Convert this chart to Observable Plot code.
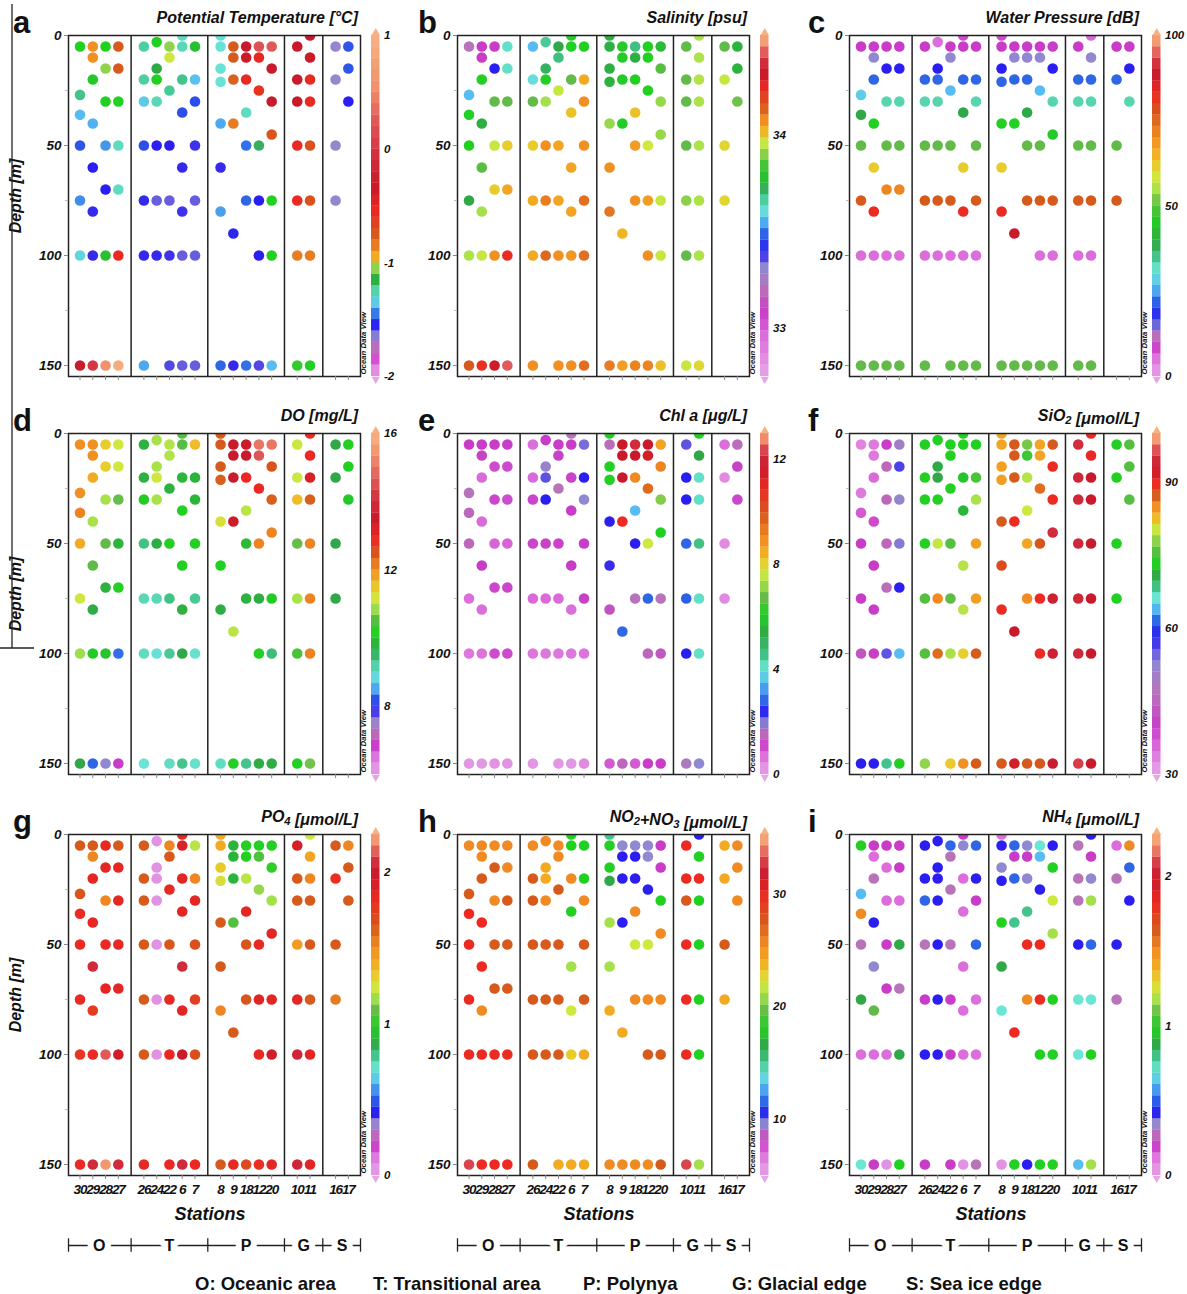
<!DOCTYPE html>
<html><head><meta charset="utf-8">
<script src="https://cdn.jsdelivr.net/npm/d3@7"></script>
<script src="https://cdn.jsdelivr.net/npm/@observablehq/plot@0.6"></script>
<style>
body{margin:0;background:#fff;}
#chart{position:relative;width:1187px;height:1294px;overflow:hidden;background:#fff;}
#chart svg{position:absolute;overflow:visible;}
</style></head><body><div id="chart"></div>
<script>
const FONT = '"Liberation Sans", Arial, Helvetica, sans-serif';

// ---------- categories ----------
const stations = ["30","29","28","27","26","24","22","6","7","8","9","18","12","20","10","11","16","17"];
const stationGroup = ["O","O","O","O","T","T","T","T","T","P","P","P","P","P","G","G","S","S"];
const groups = ["O","T","P","G","S"];
const groupNames = ["Oceanic area","Transitional area","Polynya","Glacial edge","Sea ice edge"];

// sampling depths (m) per station, same order as stations
const depths = [
 [5,27,36,50,75,100,150],
 [5,10,20,40,60,80,100,150],
 [5,15,30,50,70,100,150],
 [5,15,30,50,70,100,150],
 [5,20,30,50,75,100,150],
 [3,15,20,30,50,75,100],
 [5,10,25,50,75,100,150],
 [0,5,20,35,60,80,100,150],
 [5,20,30,50,75,100,150],
 [0,5,15,21,40,60,80,150],
 [5,10,20,40,90,150],
 [5,10,20,35,50,75,150],
 [5,10,25,50,75,100,150],
 [5,15,30,45,75,100,150],
 [5,20,30,50,75,100,150],
 [0,10,20,30,50,75,100,150],
 [5,20,50,75],
 [5,15,30]
];

// ---------- series values (per station, per depth) ----------
const temperature = [
 [-1.11,-1.22,-1.38,-1.49,-1.43,-1.33,-0.30],
 [-0.90,-0.90,-1.12,-1.39,-1.56,-1.57,-1.57,0.00],
 [-1.11,-1.05,-1.11,-1.42,-1.56,-1.13,0.55],
 [-0.75,-0.75,-1.11,-1.27,-1.27,-0.56,0.90],
 [-1.24,-1.24,-1.35,-1.50,-1.57,-1.57,-1.40],
 [-1.11,-1.16,-1.11,-1.26,-1.56,-1.62,-1.57],
 [-1.05,-1.01,-1.23,-1.56,-1.62,-1.58,-1.60],
 [-1.27,-1.26,-1.22,-1.50,-1.57,-1.58,-1.62,-1.62],
 [-1.13,-1.37,-1.50,-1.58,-1.62,-1.62,-1.62],
 [-1.30,-1.30,-1.30,-1.30,-1.40,-1.57,-1.41,-1.47],
 [-0.75,-0.75,-0.77,-0.85,-1.55,-1.57],
 [-0.33,-0.35,-0.55,-1.27,-1.46,-1.47,-1.46],
 [0.20,-0.53,-0.60,-1.18,-1.56,-1.56,-1.60],
 [0.25,-0.33,-0.33,-0.73,-1.11,-1.11,-1.38],
 [-0.33,-0.33,-0.33,-0.55,-0.55,-0.85,-1.10],
 [-0.33,-0.35,-0.55,-0.55,-0.72,-0.72,-0.85,-1.11],
 [-1.67,-1.67,-1.67,-1.67],
 [-1.49,-1.49,-1.56]
];
const salinity = [
 [33.21,33.56,33.81,33.81,33.74,33.93,34.15],
 [33.09,33.09,33.81,33.75,33.86,33.92,33.96,34.23],
 [33.09,33.40,33.87,33.96,34.00,34.07,34.31],
 [33.63,33.63,33.87,34.00,34.04,34.24,34.43],
 [33.56,33.61,33.87,34.00,34.03,34.03,34.07],
 [33.67,33.72,33.81,33.92,34.07,34.10,34.13],
 [33.74,33.69,33.96,34.04,34.04,34.07,34.07],
 [33.81,33.81,33.87,34.01,34.04,34.04,34.06,34.07],
 [33.81,34.03,34.07,34.07,34.12,34.12,34.12],
 [33.75,33.75,33.75,33.76,33.91,34.07,34.11,34.10],
 [33.80,33.80,33.80,33.80,34.02,34.05],
 [33.69,33.75,33.81,34.01,34.05,34.07,34.09],
 [33.81,33.81,33.81,33.97,34.05,34.07,34.09],
 [33.77,33.86,33.91,33.91,33.96,33.96,34.01],
 [33.87,33.87,33.87,33.87,33.90,33.87,33.96],
 [33.93,33.93,33.94,33.93,33.93,33.93,33.93,33.99],
 [33.87,33.96,33.99,33.99],
 [33.76,33.76,33.88]
];
const pressure = [
 [9,28,39,50.5,77,5.6,50.5],
 [9,14,22,46,62,83,5.6,50.5],
 [9,17,33,50.5,71,5.6,50.5],
 [9,17,33,50.5,71,5.6,50.5],
 [9,22,33,50.5,77,5.6,50.5],
 [5.6,17,22,33,50.5,77,5.6],
 [9,14,26,50.5,77,5.6,50.5],
 [8,9,22,39,62,83,5.6,50.5],
 [9,22,33,50.5,77,5.6,50.5],
 [8,9,17,22,46,62,83,50.5],
 [9,14,22,46,88,50.5],
 [9,14,22,39,50.5,77,50.5],
 [9,14,26,50.5,77,5.6,50.5],
 [9,17,33,45,77,5.6,50.5],
 [9,22,33,50.5,77,5.6,50.5],
 [6,14,22,33,50.5,77,5.6,50.5],
 [9,22,50.5,77],
 [9,17,33]
];
const oxygen = [
 [12.0,12.0,12.1,11.75,11.15,10.85,9.7],
 [12.0,12.0,11.75,10.9,10.55,9.75,10.1,8.27],
 [11.45,11.45,10.9,10.58,9.8,10.0,7.6],
 [11.15,11.15,10.6,9.85,10.14,8.3,6.85],
 [9.8,9.8,10.1,9.35,9.1,9.05,8.95],
 [10.9,10.9,11.15,10.9,9.75,9.1,8.9],
 [10.95,10.95,9.8,10.14,9.35,9.25,9.05],
 [10.5,10.5,9.85,10.14,10.14,9.8,9.7,9.3],
 [11.6,9.85,9.85,10.14,9.25,9.0,9.0],
 [12.44,12.44,12.44,12.4,11.2,10.14,9.75,9.05],
 [13.5,13.5,13.5,13.4,11.0,10.14],
 [13.5,13.5,12.9,11.0,9.9,9.8,9.3],
 [15.0,14.6,12.9,12.1,9.75,10.14,9.75],
 [15.0,12.5,12.4,12.1,10.1,9.4,9.75],
 [11.1,11.1,11.6,10.6,10.9,10.4,10.14],
 [12.9,12.9,13.2,12.4,12.1,12.1,12.1,10.65],
 [9.7,9.7,9.7,9.7],
 [10.14,10.14,10.05]
];
const chla = [
 [1.2,1.6,1.5,1.5,0.7,0.6,0.2],
 [1.2,1.25,0.75,0.75,1.2,0.7,0.65,0.2],
 [1.2,1.05,1.1,0.8,1.1,1.05,0.25],
 [1.2,1.05,1.05,0.8,1.1,1.05,0.25],
 [0.7,0.75,1.1,1.1,0.75,0.6,0.2],
 [1.2,1.85,2.1,2.3,1.15,0.75,0.6],
 [1.2,1.25,1.6,1.15,0.75,0.6,0.2],
 [1.6,1.2,1.15,1.2,1.2,0.7,0.6,0.2],
 [2.0,2.3,1.9,1.2,1.25,0.65,0.35],
 [6.1,1.55,6.1,6.1,2.3,2.25,1.35,0.9],
 [11.7,11.7,11.7,10.9,2.8,1.5],
 [12.1,11.7,9.0,3.5,2.3,1.6,0.9],
 [11.7,11.5,9.6,7.7,2.8,1.5,1.2],
 [8.6,9.1,7.0,6.1,1.6,1.4,1.2],
 [2.1,2.3,2.3,2.8,2.75,2.3,1.7],
 [6.1,5.3,4.1,4.1,4.6,4.1,4.1,1.9],
 [0.7,0.35,0.35,0.35],
 [1.55,1.25,1.1]
];
const silicate = [
 [33,34,37,39.8,39.8,43,58.3],
 [34,34,35.5,38.5,39.8,39.8,40,58.3],
 [40,45,45,45,46,55.5,68.2],
 [50,56.5,52,53.5,58.3,64.1,73.3],
 [73.3,73.3,73.3,73.3,75.5,75.5,78],
 [73.3,70.8,70.5,73.3,80,85.3,86.5],
 [73.3,73.3,73.3,75.5,76,79,82],
 [73.3,73.3,72.5,71.5,79.5,79.5,81.8,84.8],
 [73.3,75,79,83.8,84,87.3,87.3],
 [83.5,83.5,83.8,84,87.3,88,89.7,87.3],
 [87.3,87.3,87.3,89.7,92.8,92],
 [77,74.5,79.5,80.5,83.5,85.3,87.3],
 [83.5,83.5,86.5,87.5,89.7,89.7,87.5],
 [87.3,89.7,89.7,94.5,93.5,93.5,93],
 [94.5,94,94,94,94,94,95.5],
 [89.9,90,92.8,92.8,92.8,92.8,92.8,92.8],
 [73.3,73.3,73.3,73.3],
 [75.5,75.5,75.5]
];
const phosphate = [
 [1.64,1.66,1.82,1.82,1.83,1.78,1.83],
 [1.64,1.52,1.85,1.85,2.05,1.76,1.82,2.05],
 [1.84,1.85,1.52,1.84,1.86,2.13,2.21],
 [1.64,1.85,1.85,1.84,1.86,1.95,2.05],
 [1.64,1.64,1.64,1.64,1.64,1.64,1.84],
 [0.05,0.05,0.05,0.05,0.05,0.05,0.05],
 [1.52,1.65,1.84,1.65,1.84,1.84,1.84],
 [1.85,1.90,1.86,1.86,2.05,1.86,1.98,2.05],
 [1.20,1.52,1.85,1.68,1.74,1.68,1.83],
 [1.40,1.40,1.32,1.26,1.64,1.64,1.52,1.64],
 [0.90,0.90,0.90,1.06,1.64,1.84],
 [0.98,0.98,1.20,1.85,1.66,1.66,1.70],
 [0.98,1.05,1.15,1.84,1.86,1.84,1.80],
 [0.98,1.00,1.17,1.86,1.86,1.95,1.86],
 [1.92,1.64,1.64,1.45,1.86,2.03,2.03],
 [1.23,1.42,1.52,1.64,1.64,1.64,1.86,1.86],
 [1.64,1.80,1.64,1.55],
 [1.52,1.64,1.64]
];
const nitrate = [
 [25.5,27.5,30,30,30,30,33],
 [25.5,25.5,27.5,30,30,25.5,30,30],
 [25.5,27.5,25.5,27.5,27.5,30,30],
 [25.5,25.5,27.5,27.5,27.5,30,30],
 [25.5,27.5,27.5,27.5,27.5,27.5,27.5],
 [25.5,24,24,25.5,27.5,27.5,27.5],
 [25.5,25.5,27.5,27.5,27.5,27.5,24],
 [18,18,25.5,18,21,22,23,24],
 [18,18,25.5,27.5,27.5,24,24],
 [15,18,18,16.5,21,21,24,25.5],
 [9.5,10.3,10.3,10.3,24,25.5],
 [9.5,10.3,10.3,25.5,22,25.5,25.5],
 [9.5,9.5,10.3,22,25.5,27.5,25.5],
 [8,8,18,25.5,25.5,27.5,27.5],
 [30,30,27.5,30,30,30,33],
 [10.3,18,30,18,18,18,18,21],
 [24,24,27.5,24],
 [25.5,25.5,25.5]
];
const ammonium = [
 [0.98,0.61,1.51,0.28,0.87,0.14,0.70],
 [0.20,0.14,0.28,0.41,0.35,1.08,0.14,0.20],
 [0.20,0.14,0.14,0.20,0.20,0.14,0.05],
 [0.20,0.20,0.14,0.87,0.28,0.87,0.98],
 [0.41,0.41,0.51,0.28,0.20,0.41,0.20],
 [0.41,0.41,0.41,0.41,0.41,0.41,0.41],
 [0.51,0.28,0.28,0.28,0.20,0.20,0.20],
 [0.20,0.35,0.14,0.14,0.14,0.14,0.14,0.05],
 [0.51,0.41,0.20,0.51,0.14,0.14,0.28],
 [0.14,0.41,0.35,0.41,0.98,0.87,0.70,0.05],
 [0.51,0.20,0.51,0.79,1.82,0.98],
 [0.35,0.20,0.35,0.79,1.82,1.51,0.41],
 [0.70,0.61,0.41,1.82,1.82,0.98,0.98],
 [0.41,0.98,1.23,1.17,0.98,0.98,0.98],
 [0.28,0.28,0.28,0.41,0.70,0.70,0.61],
 [0.41,0.20,0.35,1.17,0.51,0.70,0.98,1.17],
 [0.14,0.28,0.41,0.28],
 [1.51,0.51,0.41]
];

// ---------- Ocean Data View palette and per-variable colour stops ----------
const palette = ["#e6a6e6","#dc6edc","#c83cc8","#b874b8","#9088d0","#2a1ef0","#2e66e6","#56bcf2","#6ae6d4","#44c48c","#30a848","#22d022","#62ba48","#a4e04c","#cfe840","#e8cc2c","#f2aa22","#f08a22","#d65a1c","#ec2a22","#c81a2a","#d23040","#e05a5a","#f0906c","#f8b282"];
const tempStops = [-2,-1.89,-1.82,-1.74,-1.66,-1.56,-1.47,-1.38,-1.29,-1.22,-1.16,-1.11,-1.07,-1.04,-1.01,-0.98,-0.95,-0.89,-0.75,-0.56,-0.33,-0.05,0.26,0.52,1];
const salStops = [32.75,32.95,33.09,33.21,33.31,33.40,33.49,33.56,33.62,33.68,33.74,33.81,33.87,33.92,33.97,34.0,34.03,34.08,34.15,34.24,34.32,34.38,34.43,34.47,34.52];
const presStops = [0,5.6,9,12,14,17,22,26,31,35,39,46,50.5,54,58,62,66,70.5,77,83,88,91.5,94.4,97.4,100];
const doStops = [6,6.56,6.85,7.25,7.6,7.93,8.27,8.57,8.96,9.3,9.7,10.14,10.58,10.87,11.12,11.46,11.75,12.05,12.44,12.88,13.47,14.06,14.65,15.33,16];
const chlStops = [0,0.7,1.2,1.6,1.9,2.3,2.8,3.5,4.0,4.5,5.3,6.1,6.7,7.3,7.7,8.1,8.5,9.0,9.9,10.9,11.7,12.2,12.5,12.8,13];
const sioStops = [30,35,39.8,46.7,52.8,58.3,61.4,64.1,66.2,68.2,70.6,73.3,76.1,78.8,80.5,81.9,83.2,85.3,87.3,89.7,92.8,94.9,96.9,98.3,100];
const po4Stops = [0,0.14,0.2,0.28,0.35,0.41,0.51,0.61,0.7,0.79,0.87,0.98,1.08,1.17,1.23,1.31,1.4,1.51,1.64,1.82,1.98,2.07,2.13,2.2,2.25];
const no3Stops = [5,7,8,9,9.5,10.3,11.5,13,14,15,16.5,18,19.5,21,22,23,24,25.5,27.5,30,31.5,32.5,33.5,34.3,35.3];
const nh4Stops = [0,0.14,0.2,0.28,0.35,0.41,0.51,0.61,0.7,0.79,0.87,0.98,1.08,1.17,1.23,1.31,1.4,1.51,1.64,1.82,1.98,2.07,2.13,2.2,2.28];

const panels = [
 {letter:"a", title:"Potential Temperature [°C]", values:temperature, stops:tempStops, ticks:[-2,-1,0,1]},
 {letter:"b", title:"Salinity [psu]", values:salinity, stops:salStops, ticks:[33,34]},
 {letter:"c", title:"Water Pressure [dB]", values:pressure, stops:presStops, ticks:[0,50,100]},
 {letter:"d", title:"DO [mg/L]", values:oxygen, stops:doStops, ticks:[8,12,16]},
 {letter:"e", title:"Chl a [μg/L]", values:chla, stops:chlStops, ticks:[0,4,8,12]},
 {letter:"f", title:"SiO_2 [μmol/L]", values:silicate, stops:sioStops, ticks:[30,60,90]},
 {letter:"g", title:"PO_4 [μmol/L]", values:phosphate, stops:po4Stops, ticks:[0,1,2]},
 {letter:"h", title:"NO_2+NO_3 [μmol/L]", values:nitrate, stops:no3Stops, ticks:[10,20,30]},
 {letter:"i", title:"NH_4 [μmol/L]", values:ammonium, stops:nh4Stops, ticks:[0,1,2]}
];

// ---------- layout ----------
const colLeft = [68, 457, 849];
const FW = 292, FH = 341;
const rowTop = [35, 433, 834];
const xDomain = [-0.9, 21.95];
const stationPos = stations.map((s, i) => i + groups.indexOf(stationGroup[i]));
const posLabel = new Map(stationPos.map((p, i) => [p, stations[i]]));
const separators = groups.slice(0, -1).map(g => d3.max(stationPos.filter((p, i) => stationGroup[i] === g)) + 1);
const groupCenters = groups.map(g => d3.mean(stationPos.filter((p, i) => stationGroup[i] === g)));

const chart = document.getElementById("chart");
function place(el, left, top) { el.style.left = left + "px"; el.style.top = top + "px"; chart.appendChild(el); }

panels.forEach((p, k) => {
  const col = k % 3, row = Math.floor(k / 3);
  const FL = colLeft[col], FT = rowTop[row], FR = FL + FW;
  const bottom = row === 2;
  const ML = 60, MT = 30, MR = 10, MB = bottom ? 40 : 20;
  const data = [];
  stations.forEach((s, i) => depths[i].forEach((d, j) => {
    const v = p.values[i][j];
    if (v != null) data.push({pos: stationPos[i], depth: d, value: v});
  }));
  const colorOpts = {type: "linear", domain: p.stops, range: palette, clamp: true};
  const svg = Plot.plot({
    width: ML + FW + MR, height: MT + FH + MB,
    marginLeft: ML, marginTop: MT, marginRight: MR, marginBottom: MB,
    style: {fontFamily: FONT, fontSize: "13.5px", fontWeight: "bold", fontStyle: "italic", color: "#111", background: "transparent"},
    x: {domain: xDomain},
    y: {domain: [0, 155], reverse: true},
    color: colorOpts,
    marks: [
      Plot.dot(data, {x: "pos", y: "depth", fill: "value", r: 5.3, clip: true}),
      Plot.ruleX(separators, {stroke: "#222", strokeWidth: 1.5}),
      Plot.frame({stroke: "#222", strokeWidth: 1.5}),
      Plot.axisY({ticks: [0, 50, 100, 150], tickSize: 4, tickPadding: 3, label: null, stroke: "#888", fontSize: 13.5, tickFormat: d => String(d)}),
      Plot.axisY({ticks: [25, 75, 125], tickSize: 3, label: null, stroke: "#bbb", tickFormat: () => ""}),
      Plot.axisX({ticks: stationPos, tickSize: 4, tickPadding: 5, label: null, stroke: "#888", fontSize: 13.5,
        tickFormat: bottom ? (d => posLabel.get(d)) : (() => "")})
    ]
  });
  // tight, non-overlapping station labels
  svg.querySelectorAll('[aria-label="x-axis tick label"]').forEach(g => g.setAttribute("letter-spacing", "-1.1"));
  place(svg, FL - ML, FT - MT);

  // colour bar
  const lo = p.stops[0], hi = p.stops[p.stops.length - 1];
  const nBands = 30, st = (hi - lo) / nBands;
  const bands = d3.range(nBands).map(i => ({y1: lo + i * st, y2: lo + (i + 1) * st + st * 0.02, v: lo + (i + 0.5) * st}));
  const cML = 12, cBW = 8.5, cW = 50, cMT = 10;
  const bar = Plot.plot({
    width: cW, height: FH + 2 * cMT,
    marginLeft: cML, marginRight: cW - cML - cBW, marginTop: cMT, marginBottom: cMT,
    style: {fontFamily: FONT, fontSize: "11.5px", fontWeight: "bold", fontStyle: "italic", color: "#111", background: "transparent"},
    x: {domain: [0, 1], axis: null},
    y: {domain: [lo, hi]},
    color: colorOpts,
    marks: [
      Plot.rect(bands, {x1: 0, x2: 1, y1: "y1", y2: "y2", fill: "v"}),
      Plot.dot([hi], {x: 0.5, y: d => d, fill: d => d, symbol: "triangle", r: 3.1, dy: -2.6}),
      Plot.dot([lo], {x: 0.5, y: d => d, fill: d => d, symbol: "triangle", r: 3.1, dy: 2.6, rotate: 180}),
      Plot.axisY({anchor: "right", ticks: p.ticks, tickSize: 0, tickPadding: 4, label: null, fontSize: 11.5, tickFormat: d => String(d)}),
      Plot.text(["Ocean Data View"], {frameAnchor: "bottom-left", text: d => d, rotate: -90, textAnchor: "start", dx: -5.5, dy: -2, fontSize: 7.8})
    ]
  });
  place(bar, FR + 11 - cML, FT - cMT);

  // group bar under the bottom row
  if (bottom) {
    const gb = Plot.plot({
      width: ML + FW + MR, height: 24,
      marginLeft: ML, marginRight: MR, marginTop: 0, marginBottom: 0,
      style: {fontFamily: FONT, fontSize: "16px", fontWeight: "bold", color: "#111", background: "transparent"},
      x: {domain: xDomain, axis: null},
      y: {domain: [0, 1], axis: null},
      marks: [
        Plot.ruleY([0.5], {x1: xDomain[0], x2: xDomain[1], stroke: "#222", strokeWidth: 1.3}),
        Plot.ruleX([xDomain[0], ...separators, xDomain[1]], {y1: 0.22, y2: 0.78, stroke: "#222", strokeWidth: 1.3}),
        Plot.text(groups, {x: (d, i) => groupCenters[i], y: 0.5, text: d => d, fill: "#111", stroke: "white", strokeWidth: 12, lineAnchor: "middle"})
      ]
    });
    place(gb, FL - ML, 1233);
  }
});

// ---------- annotation text ----------
const ov = d3.select(chart).append("svg").attr("width", 1187).attr("height", 1294)
  .style("left", "0px").style("top", "0px").style("pointer-events", "none")
  .attr("font-family", FONT).attr("fill", "#111");

function richTitle(sel, str) {
  str.split(/(_\d)/).filter(s => s.length).forEach(part => {
    if (part[0] === "_") {
      sel.append("tspan").attr("font-size", "70%").attr("dy", 3).text(part.slice(1));
      sel.append("tspan").attr("dy", -3).text("");
    } else sel.append("tspan").text(part);
  });
}
const letterX = [13, 418, 808];
panels.forEach((p, k) => {
  const col = k % 3, row = Math.floor(k / 3);
  const FL = colLeft[col], FT = rowTop[row], FR = FL + FW;
  ov.append("text").attr("x", letterX[col]).attr("y", FT - 2).attr("font-size", 31).attr("font-weight", "bold").text(p.letter);
  const t = ov.append("text").attr("x", FR - 2).attr("y", FT - 12).attr("text-anchor", "end")
    .attr("font-size", 16).attr("font-weight", "bold").attr("font-style", "italic");
  richTitle(t, p.title);
  if (col === 0) {
    ov.append("text").attr("transform", `translate(21,${FT + 161}) rotate(-90)`).attr("text-anchor", "middle")
      .attr("font-size", 16).attr("font-weight", "bold").attr("font-style", "italic").text("Depth [m]");
  }
  if (row === 2) {
    ov.append("text").attr("x", FL + FW / 2 - 4).attr("y", 1220).attr("text-anchor", "middle")
      .attr("font-size", 18).attr("font-weight", "bold").attr("font-style", "italic").text("Stations");
  }
});
// stray frame lines of the original figure
ov.append("line").attr("x1", 12).attr("x2", 12).attr("y1", 4).attr("y2", 648).attr("stroke", "#222").attr("stroke-width", 1.3);
ov.append("line").attr("x1", 0).attr("x2", 34).attr("y1", 648).attr("y2", 648).attr("stroke", "#222").attr("stroke-width", 1.3);

// region legend
const legendX = [195, 373, 583, 732, 906];
groups.forEach((g, i) => {
  ov.append("text").attr("x", legendX[i]).attr("y", 1290).attr("font-size", 18.5).attr("font-weight", "bold")
    .text(`${g}: ${groupNames[i]}`);
});
</script></body></html>
